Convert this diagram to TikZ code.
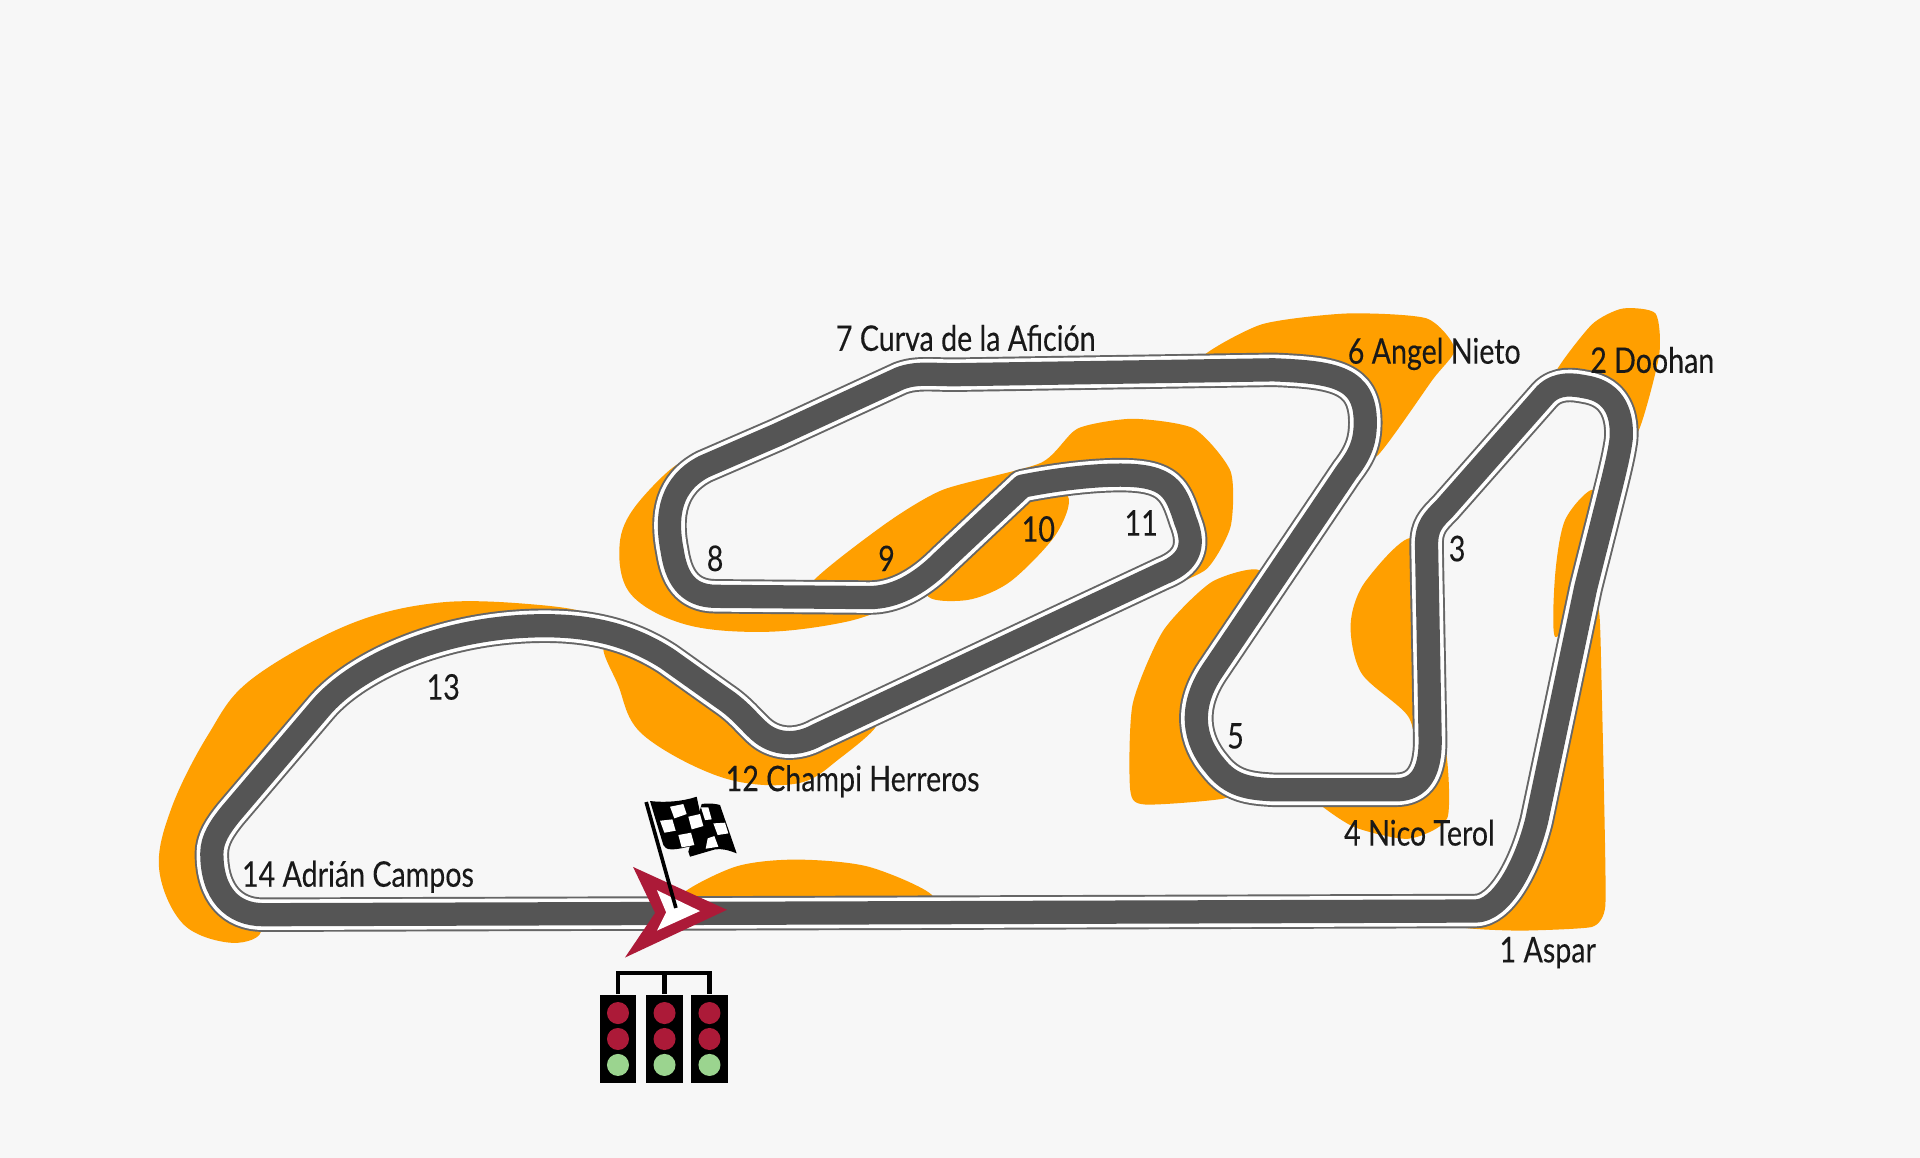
\documentclass[tikz,border=0pt]{standalone}
\usepackage{xcolor}
\usepackage{fontspec}
\setmainfont[FakeStretch=0.81,FakeBold=0.2]{Lato}
\usetikzlibrary{positioning}
\definecolor{fondo}{RGB}{247, 247, 247}
\definecolor{escape}{RGB}{255, 159, 0}
\definecolor{asfalto}{RGB}{85, 85, 85}
\definecolor{granate}{RGB}{172, 26, 56}
\definecolor{verde}{RGB}{155, 212, 143}
\newcommand{\trazado}{(1205,744) -- (215,747)
    .. controls (190,747) and (173,730) .. (173,697)
    .. controls (173,685) and (180,675) .. (188,665)
    -- (262,578)
    .. controls (290,545) and (360,511) .. (445,511)
    .. controls (490,511) and (520,522) .. (545,538)
    -- (590,570)
    .. controls (605,580) and (612,590) .. (620,597)
    .. controls (632,608) and (650,610) .. (668,600)
    -- (950,468)
    .. controls (975,458) and (975,442) .. (968,425)
    .. controls (960,400) and (955,388) .. (915,388)
    .. controls (890,388) and (860,392) .. (835,397)
    -- (770,458)
    .. controls (750,478) and (730,488) .. (710,488)
    -- (585,487)
    .. controls (560,487) and (552,470) .. (549,450)
    .. controls (543,420) and (548,395) .. (575,381)
    -- (635,355) -- (735,309)
    .. controls (748,304) and (760,306) .. (780,306)
    -- (1040,302)
    .. controls (1090,304) and (1115,308) .. (1115,345)
    .. controls (1115,362) and (1110,372) .. (1100,385)
    -- (990,548)
    .. controls (970,578) and (975,605) .. (992,625)
    .. controls (1005,642) and (1020,644) .. (1040,645)
    -- (1140,645)
    .. controls (1160,645) and (1168,630) .. (1168,605)
    -- (1165,445)
    .. controls (1165,430) and (1170,425) .. (1180,415)
    -- (1262,322)
    .. controls (1272,312) and (1285,314) .. (1295,316)
    .. controls (1320,320) and (1325,340) .. (1324,358)
    .. controls (1322,375) and (1315,400) .. (1295,480)
    -- (1255,670)
    .. controls (1245,710) and (1225,744) .. (1205,744) -- cycle}
\tikzset{
    escapatoria/.style={fill=escape, draw=none},
    curva/.style={inner sep=0pt, text=black!90, font=\fontsize{8.2}{9}\selectfont},
    semaforo/.style={fill=black, minimum width=0.295cm, minimum height=0.72cm, inner sep=0pt},
    luzroja/.style={circle, fill=granate, minimum size=0.18cm, inner sep=0pt},
    luzverde/.style={circle, fill=verde, minimum size=0.18cm, inner sep=0pt},
    cable/.style={draw=black, line width=0.95pt},
    cuadro/.style={fill=white, draw=none}
}

\begin{document}
\begin{tikzpicture}[x=0.01cm, y=-0.01cm]
    \useasboundingbox (0,0) rectangle (1568,945.7);
    \fill[fondo] (0,0) rectangle (1568,945.7);

    % Escapatorias
    \fill[escapatoria] plot[smooth cycle, tension=0.6] coordinates {(213,758) (190,770) (150,755) (130,710) (140,660) (170,600) (205,555) (285,510) (360,492) (440,494) (475,502) (400,513) (290,550) (185,670) (175,722)};
    \fill[escapatoria] plot[smooth cycle, tension=0.6] coordinates {(495,525) (505,560) (525,600) (590,635) (650,640) (685,620) (715,590) (645,607) (605,582) (550,540)};
    \fill[escapatoria] plot[smooth cycle, tension=0.6] coordinates {(558,378) (520,412) (506,445) (515,485) (560,510) (625,516) (690,508) (725,495) (715,488) (585,487) (550,462) (549,430)};
    \fill[escapatoria] plot[smooth cycle, tension=0.4] coordinates {(660,480) (720,430) (770,400) (850,378) (880,350) (925,342) (975,350) (1005,385) (1005,430) (985,465) (945,481) (968,450) (962,412) (915,388) (835,397) (770,458) (715,488)};
    \fill[escapatoria] plot[smooth cycle, tension=0.5] coordinates {(835,398) (872,405) (862,437) (825,475) (790,490) (757,485) (790,440)};
    \fill[escapatoria] plot[smooth cycle, tension=0.4] coordinates {(980,294) (1030,265) (1100,256) (1165,260) (1188,285) (1170,310) (1125,372) (1105,370) (1105,315) (1040,302)};
    \fill[escapatoria] plot[smooth cycle, tension=0.4] coordinates {(1030,468) (990,475) (950,515) (925,575) (923,645) (935,657) (1000,652) (1003,640) (980,585) (990,548)};
    \fill[escapatoria] plot[smooth cycle, tension=0.5] coordinates {(1155,440) (1115,475) (1103,510) (1112,550) (1150,585) (1158,620) (1168,610) (1168,520)};
    \fill[escapatoria] plot[smooth cycle, tension=0.4] coordinates {(1070,650) (1105,675) (1150,685) (1182,668) (1180,610) (1162,635) (1090,645)};
    \fill[escapatoria] plot[smooth cycle, tension=0.4] coordinates {(1270,305) (1300,265) (1325,252) (1352,256) (1355,290) (1338,352) (1320,355) (1310,324) (1285,316)};
    \fill[escapatoria] plot[smooth cycle, tension=0.5] coordinates {(1300,400) (1278,425) (1270,470) (1270,520) (1290,490) (1310,420)};
    \fill[escapatoria] plot[smooth cycle, tension=0.3] coordinates {(1295,470) (1306,500) (1308,560) (1310,650) (1311,740) (1300,757) (1240,760) (1190,756) (1228,725) (1250,680) (1270,590)};
    \fill[escapatoria] plot[smooth cycle, tension=0.5] coordinates {(555,733) (600,708) (650,702) (710,708) (762,733) (700,744) (600,744)};

    % Trazado
    \draw[asfalto!90, line width=8pt, line join=round] \trazado;
    \draw[white, line width=7.1pt, line join=round] \trazado;
    \draw[asfalto, line width=5.4pt, line join=round] \trazado;

    % Nombres de las curvas
    \node[curva, anchor=west] (curvaUno) at (1224,778) {1 Aspar};
    \node[curva, anchor=west] (curvaDos) at (1298,294) {2 Doohan};
    \node[curva] (curvaTres) at (1190,448) {3};
    \node[curva, anchor=west] (curvaCuatro) at (1097,680) {4 Nico Terol};
    \node[curva] (curvaCinco) at (1009,601) {5};
    \node[curva, anchor=west] (curvaSeis) at (1100,289) {6 Angel Nieto};
    \node[curva, anchor=west] (curvaSiete) at (682,276) {7 Curva de la Afición};
    \node[curva] (curvaOcho) at (584,456) {8};
    \node[curva] (curvaNueve) at (724,456) {9};
    \node[curva] (curvaDiez) at (848,432) {10};
    \node[curva] (curvaOnce) at (932,427) {11};
    \node[curva, anchor=west] (curvaDoce) at (592,638) {12 Champi Herreros};
    \node[curva] (curvaTrece) at (362,561) {13};
    \node[curva, anchor=west] (curvaCatorce) at (197,716) {14 Adrián Campos};

    % Flecha de salida
    \fill[granate] (593.7,743) -- (517,708) -- (535,745.6) -- (510.4,782) -- cycle;
    \fill[white] (571.7,744) -- (536.5,727) -- (544,745) -- (536.5,760) -- cycle;

    % Bandera
    \begin{scope}[shift={(518.6,645.2)}, scale=0.2722]
        \fill[black] (200,42) .. controls (225,38) and (245,42) .. (255,45) -- (305,190) .. controls (280,180) and (260,175) .. (240,178) -- (165,200) -- (160,185) -- cycle;
        \fill[black] (45,33) .. controls (90,38) and (140,35) .. (185,20) -- (215,160) .. controls (170,165) and (140,178) .. (110,178) .. controls (95,178) and (88,172) .. (85,165) -- cycle;
        \fill[cuadro] (105,50) -- (145,42) -- (155,72) -- (118,85) -- cycle;
        \fill[cuadro] (75,92) -- (112,88) -- (122,122) -- (88,128) -- cycle;
        \fill[cuadro] (160,80) -- (195,72) -- (205,108) -- (170,118) -- cycle;
        \fill[cuadro] (130,135) -- (168,128) -- (178,165) -- (140,172) -- cycle;
        \fill[cuadro] (198,52) -- (220,52) -- (230,88) -- (210,90) -- cycle;
        \fill[cuadro] (235,100) -- (270,98) -- (280,130) -- (248,135) -- cycle;
        \fill[cuadro] (218,145) -- (238,138) -- (250,170) -- (212,176) -- cycle;
    \end{scope}
    \draw[black, line width=0.85pt] (527.7,655) -- (552,741.5);

    % Semaforos
    \node[semaforo] (semaforoA) at (504.7,848.5) {};
    \node[semaforo] (semaforoB) at (542.7,848.5) {};
    \node[semaforo] (semaforoC) at (579.4,848.5) {};
    \node[luzroja] (rojaA) at (504.7,827.3) {};
    \node[luzroja] (rojaB) at (542.7,827.3) {};
    \node[luzroja] (rojaC) at (579.4,827.3) {};
    \node[luzroja] (rojaD) at (504.7,848.5) {};
    \node[luzroja] (rojaE) at (542.7,848.5) {};
    \node[luzroja] (rojaF) at (579.4,848.5) {};
    \node[luzverde] (verdeA) at (504.7,869.7) {};
    \node[luzverde] (verdeB) at (542.7,869.7) {};
    \node[luzverde] (verdeC) at (579.4,869.7) {};
    \coordinate (barraA) at (504.7,794.5);
    \coordinate (barraB) at (542.7,794.5);
    \coordinate (barraC) at (579.4,794.5);
    \draw[cable] (semaforoA.north) -- (barraA) -- (barraC) -- (semaforoC.north);
    \draw[cable] (barraB) -- (semaforoB.north);
\end{tikzpicture}
\end{document}
